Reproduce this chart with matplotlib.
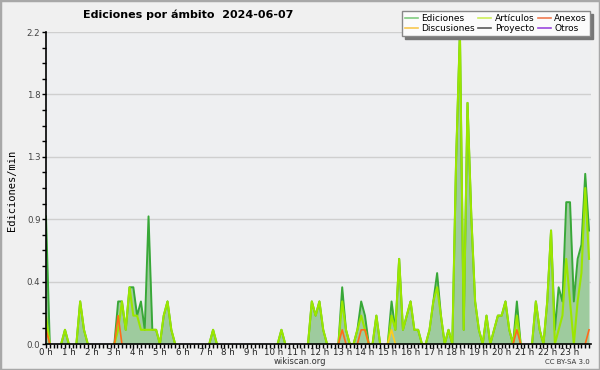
import numpy as np
import matplotlib
matplotlib.use("Agg")
import matplotlib.pyplot as plt
import matplotlib.ticker as mticker
from matplotlib.lines import Line2D
from matplotlib.patches import Rectangle

# edits per minute, one value per 10-minute slot (6 per hour)
EDICIONES = [
    0.9, 0, 0, 0, 0, 0.1,        # 0 h
    0, 0, 0, 0.3, 0.1, 0,        # 1 h
    0, 0, 0, 0, 0, 0,            # 2 h
    0, 0.3, 0.3, 0.1, 0.4, 0.4,  # 3 h
    0.2, 0.3, 0.1, 0.9, 0.1, 0.1,  # 4 h
    0, 0.2, 0.3, 0.1, 0, 0,      # 5 h
    0, 0, 0, 0, 0, 0,            # 6 h
    0, 0, 0.1, 0, 0, 0,          # 7 h
    0, 0, 0, 0, 0, 0,            # 8 h
    0, 0, 0, 0, 0, 0,            # 9 h
    0, 0, 0.1, 0, 0, 0,          # 10 h
    0, 0, 0, 0, 0.3, 0.2,        # 11 h
    0.3, 0.1, 0, 0, 0, 0,        # 12 h
    0.4, 0.1, 0, 0, 0.1, 0.3,    # 13 h
    0.2, 0, 0, 0.2, 0, 0,        # 14 h
    0, 0.3, 0.1, 0.6, 0.1, 0.2,  # 15 h
    0.3, 0.1, 0.1, 0, 0, 0.1,    # 16 h
    0.3, 0.5, 0.2, 0, 0.1, 0,    # 17 h
    1.3, 2.2, 0.1, 1.7, 0.9, 0.3,  # 18 h
    0.1, 0, 0.2, 0, 0.1, 0.2,    # 19 h
    0.2, 0.3, 0.1, 0, 0.3, 0,    # 20 h
    0, 0, 0, 0.3, 0.1, 0,        # 21 h
    0.3, 0.8, 0.1, 0.4, 0.3, 1.0,  # 22 h
    1.0, 0.3, 0.6, 0.7, 1.2, 0.8,  # 23 h
]

ARTICULOS = [
    0.2, 0, 0, 0, 0, 0.1,
    0, 0, 0, 0.3, 0.1, 0,
    0, 0, 0, 0, 0, 0,
    0, 0.1, 0.3, 0.1, 0.4, 0.2,
    0.2, 0.1, 0.1, 0.1, 0.1, 0.1,
    0, 0.2, 0.3, 0.1, 0, 0,
    0, 0, 0, 0, 0, 0,
    0, 0, 0.1, 0, 0, 0,
    0, 0, 0, 0, 0, 0,
    0, 0, 0, 0, 0, 0,
    0, 0, 0.1, 0, 0, 0,
    0, 0, 0, 0, 0.3, 0.2,
    0.3, 0.1, 0, 0, 0, 0,
    0.3, 0.1, 0, 0, 0.1, 0.2,
    0.1, 0, 0, 0.2, 0, 0,
    0, 0.2, 0.1, 0.6, 0.1, 0.2,
    0.3, 0.1, 0.1, 0, 0, 0.1,
    0.3, 0.4, 0.2, 0, 0.1, 0,
    1.3, 2.2, 0.1, 1.7, 0.9, 0.3,
    0.1, 0, 0.2, 0, 0.1, 0.2,
    0.2, 0.3, 0.1, 0, 0.2, 0,
    0, 0, 0, 0.3, 0.1, 0,
    0.3, 0.8, 0, 0.1, 0.2, 0.6,
    0.3, 0, 0.3, 0.5, 1.1, 0.6,
]

ANEXOS = [
    0.1, 0, 0, 0, 0, 0,
    0, 0, 0, 0, 0, 0,
    0, 0, 0, 0, 0, 0,
    0, 0.2, 0, 0, 0, 0,
    0, 0, 0, 0, 0, 0,
    0, 0, 0, 0, 0, 0,
    0, 0, 0, 0, 0, 0,
    0, 0, 0, 0, 0, 0,
    0, 0, 0, 0, 0, 0,
    0, 0, 0, 0, 0, 0,
    0, 0, 0, 0, 0, 0,
    0, 0, 0, 0, 0, 0,
    0, 0, 0, 0, 0, 0,
    0.1, 0, 0, 0, 0, 0.1,
    0.1, 0, 0, 0, 0, 0,
    0, 0, 0, 0, 0, 0,
    0, 0, 0, 0, 0, 0,
    0, 0, 0, 0, 0, 0,
    0, 0, 0, 0, 0, 0,
    0, 0, 0, 0, 0, 0,
    0, 0, 0, 0, 0.1, 0,
    0, 0, 0, 0, 0, 0,
    0, 0, 0, 0, 0, 0,
    0, 0, 0, 0, 0, 0.1,
]

DISCUSIONES = [0] * 91 + [0.1] + [0] * 52

HOUR_LABELS = [f"{h} h" for h in range(24)]

LEGEND = [
    ("Ediciones", "#80cc80"),
    ("Discusiones", "#f8c850"),
    ("Artículos", "#cdee5a"),
    ("Proyecto", "#5a5a5a"),
    ("Anexos", "#f07a50"),
    ("Otros", "#9a48de"),
]


def _mask_flat(values):
    """Hide runs of zeros so lines don't trace along the baseline."""
    v = np.asarray(values, dtype=float)
    out = v.copy()
    n = len(v)
    for i in range(n):
        left = v[i - 1] if i > 0 else 0
        right = v[i + 1] if i < n - 1 else 0
        if v[i] == 0 and left == 0 and right == 0:
            out[i] = np.nan
    return out


x = np.arange(len(EDICIONES)) / 6.0

fig = plt.figure(figsize=(6, 3.7), dpi=100, facecolor="#f0f0f0")
ax = fig.add_axes([46 / 600, 1 - 344 / 370, 545 / 600, 312 / 370])
ax.set_facecolor("#eeeff1")

ax.fill_between(x, EDICIONES, 0, color="#9ecb9e", linewidth=0, zorder=2)
ax.plot(x, _mask_flat(EDICIONES), color="#38a838", linewidth=1.4, zorder=3)
ax.plot(x, _mask_flat(ARTICULOS), color="#9be600", linewidth=1.5, zorder=4)
ax.plot(x, _mask_flat(DISCUSIONES), color="#ffcc22", linewidth=1.2, zorder=5)
ax.plot(x, _mask_flat(ANEXOS), color="#ff6a1a", linewidth=1.2, zorder=6)

ax.set_xlim(0, 23.92)
ax.set_ylim(0, 2.2)

ax.xaxis.set_major_locator(mticker.FixedLocator(range(24)))
ax.xaxis.set_major_formatter(mticker.FixedFormatter(HOUR_LABELS))
ax.xaxis.set_minor_locator(mticker.MultipleLocator(1 / 6))
ax.yaxis.set_major_locator(mticker.FixedLocator(np.linspace(0, 2.2, 6)))
ax.yaxis.set_major_formatter(mticker.FormatStrFormatter("%.1f"))
ax.yaxis.set_minor_locator(mticker.FixedLocator(np.linspace(0, 2.2, 21)))

ax.tick_params(which="both", direction="out", length=3, width=1, color="black")
ax.tick_params(axis="x", labelsize=6.2, pad=0, labelcolor="#222")
ax.tick_params(axis="y", labelsize=6.2, pad=1, labelcolor="#444")

ax.set_axisbelow(True)
ax.yaxis.grid(True, which="major", color="#cfcfcf", linewidth=1)
for side in ("top", "right"):
    ax.spines[side].set_visible(False)
for side in ("left", "bottom"):
    ax.spines[side].set_linewidth(1.2)
    ax.spines[side].set_zorder(8)

fig.text(188 / 600, 1 - 15 / 370, "Ediciones por ámbito  2024-06-07",
         ha="center", va="center", fontsize=8, fontweight="bold")
fig.text(12 / 600, 1 - 190 / 370, "Ediciones/min", rotation=90,
         ha="center", va="center", fontsize=7.5, family="DejaVu Sans Mono")
fig.text(300 / 600, 1 - 362 / 370, "wikiscan.org", ha="center", va="center",
         fontsize=6, color="#333")
fig.text(590 / 600, 1 - 362 / 370, "CC BY-SA 3.0", ha="right", va="center",
         fontsize=5, color="#333")

handles = [Line2D([], [], color=c, linewidth=1.2) for _, c in LEGEND]
leg = fig.legend(handles, [n for n, _ in LEGEND], ncol=3, loc="upper right",
                 bbox_to_anchor=(590 / 600, 1 - 11 / 370), fontsize=6.5,
                 frameon=True, fancybox=False, shadow={"color": "#777", "alpha": 1},
                 handlelength=1.4, handletextpad=0.4, columnspacing=0.4,
                 labelspacing=0.1, borderpad=0.35, borderaxespad=0)
leg.get_frame().set_facecolor("#fbfbfb")
leg.get_frame().set_edgecolor("#888")
leg.get_frame().set_linewidth(1)

fig.patches.append(Rectangle((0, 0), 1, 1, transform=fig.transFigure, fill=False,
                             edgecolor="#a8a8a8", linewidth=2.5))

fig.savefig("out.png", dpi=100, facecolor=fig.get_facecolor())
